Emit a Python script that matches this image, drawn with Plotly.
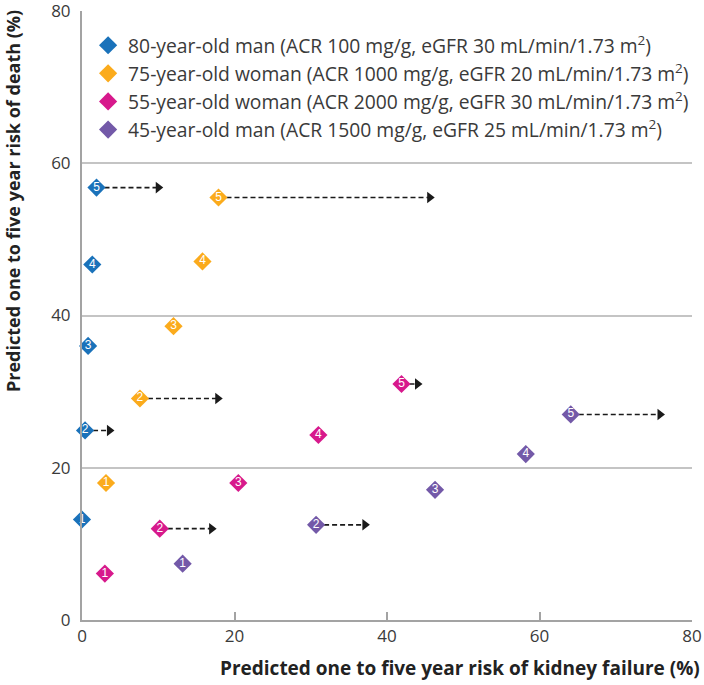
import plotly.graph_objects as go

# predicted 1-5 year risk (%) for each patient, index = year
years = ['1', '2', '3', '4', '5']
groups = [
    '80-year-old man (ACR 100 mg/g, eGFR 30 mL/min/1.73 m<sup>2</sup>)',
    '75-year-old woman (ACR 1000 mg/g, eGFR 20 mL/min/1.73 m<sup>2</sup>)',
    '55-year-old woman (ACR 2000 mg/g, eGFR 30 mL/min/1.73 m<sup>2</sup>)',
    '45-year-old man (ACR 1500 mg/g, eGFR 25 mL/min/1.73 m<sup>2</sup>)',
]
colors = ['#1a72ba', '#fbab1c', '#d7198c', '#7359a8']

kidney_80m = [0.0, 0.4, 0.8, 1.35, 1.9]
death_80m = [13.2, 24.9, 36.0, 46.7, 56.8]
kidney_75w = [3.15, 7.6, 12.0, 15.8, 17.9]
death_75w = [18.0, 29.1, 38.6, 47.1, 55.5]
kidney_55w = [3.0, 10.2, 20.5, 31.0, 41.9]
death_55w = [6.1, 12.0, 18.0, 24.3, 31.0]
kidney_45m = [13.2, 30.7, 46.3, 58.2, 64.1]
death_45m = [7.4, 12.5, 17.1, 21.8, 27.0]

kidney = [kidney_80m, kidney_75w, kidney_55w, kidney_45m]
death = [death_80m, death_75w, death_55w, death_45m]

# dashed arrows: (group index, year index, where the arrow points to on x)
arrow_group = [0, 0, 1, 1, 2, 2, 3, 3]
arrow_year = [1, 4, 1, 4, 1, 4, 1, 4]
arrow_end = [3.6, 10.0, 17.8, 45.6, 17.0, 44.0, 37.1, 75.8]

FONT = 'Open Sans'

fig = go.Figure()

# arrows first so the diamonds sit on top
for g, yr, end in zip(arrow_group, arrow_year, arrow_end):
    x0 = kidney[g][yr]
    y0 = death[g][yr]
    fig.add_trace(go.Scatter(x=[x0, end], y=[y0, y0], mode='lines',
                             line=dict(color='#1a1a1a', width=1.6, dash='5px,3px'),
                             showlegend=False, hoverinfo='skip', cliponaxis=False))
    fig.add_trace(go.Scatter(x=[end], y=[y0], mode='markers',
                             marker=dict(symbol='triangle-right', size=10, color='#1a1a1a'),
                             showlegend=False, hoverinfo='skip', cliponaxis=False))

for name, col, xs, ys in zip(groups, colors, kidney, death):
    fig.add_trace(go.Scatter(x=xs, y=ys, mode='markers', name=name,
                             marker=dict(symbol='diamond', size=14, color=col,
                                         line=dict(width=0)),
                             cliponaxis=False))
    fig.add_trace(go.Scatter(x=xs, y=ys, mode='text', text=years,
                             textposition='middle center',
                             textfont=dict(family='Liberation Sans', size=12, color='white'),
                             showlegend=False, hoverinfo='skip', cliponaxis=False))

axis_common = dict(showline=True, linecolor='#a3a3a3', linewidth=2,
                   tickfont=dict(family=FONT, size=17, color='#3a3a3a'),
                   zeroline=False, automargin=False, ticklabeloverflow='allow')

fig.update_layout(
    width=704, height=685,
    plot_bgcolor='white', paper_bgcolor='white',
    margin=dict(l=82, r=12, t=11, b=65, autoexpand=False),
    xaxis=dict(range=[0, 80], tickvals=[0, 20, 40, 60, 80], showgrid=False,
               ticks='inside', ticklen=8, tickwidth=1.5, tickcolor='#a3a3a3',
               **axis_common),
    yaxis=dict(range=[0, 80], tickvals=[0, 20, 40, 60, 80], showgrid=True,
               gridcolor='#c4c4c4', gridwidth=1.5, ticks='', ticklabelstandoff=6,
               **axis_common),
    legend=dict(x=0.01, y=0.975, xanchor='left', yanchor='top',
                bgcolor='rgba(0,0,0,0)', itemwidth=30, tracegroupgap=0,
                font=dict(family=FONT, size=19.3, color='#3a3a3a')),
    annotations=[
        dict(text='<b>Predicted one to five year risk of kidney failure (%)</b>',
             xref='paper', yref='paper', x=1.016, y=-0.079, xanchor='right',
             yanchor='middle', showarrow=False,
             font=dict(family=FONT, size=19, color='#222222')),
        dict(text='<b>Predicted one to five year risk of death (%)</b>',
             xref='paper', yref='paper', x=-0.113, y=1.005, xanchor='center',
             yanchor='top', textangle=-90, showarrow=False,
             font=dict(family=FONT, size=18, color='#222222')),
    ],
)

# the page body has a default 8px margin; drop it so the figure fills the window
fig.write_html('out.html', config={'displayModeBar': False},
               post_script="document.body.style.margin='0';")
